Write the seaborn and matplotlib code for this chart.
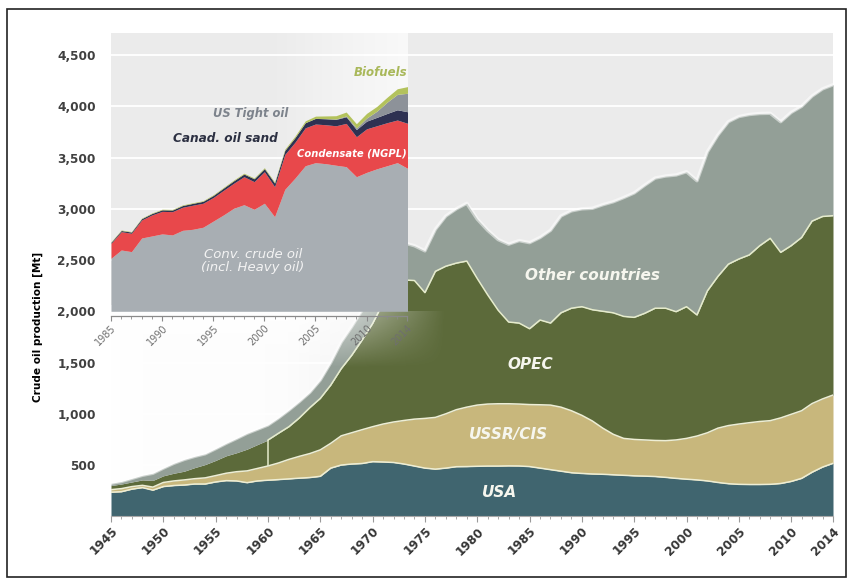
import numpy as np
import matplotlib
matplotlib.use("Agg")
import matplotlib.pyplot as plt
import seaborn as sns
from matplotlib.ticker import MultipleLocator, FuncFormatter
from matplotlib.patches import Rectangle

# ---------------- data (Mt) ----------------
years = list(range(1945, 2015))
usa = [235, 240, 265, 280, 255, 290, 300, 305, 315, 315,
       335, 348, 345, 328, 345, 352, 358, 365, 372, 378,
       390, 470, 500, 510, 515, 533, 530, 525, 510, 490,
       470, 460, 470, 484, 485, 488, 490, 490, 492, 491,
       485, 470, 455, 440, 425, 418, 413, 410, 405, 400,
       395, 392, 388, 380, 370, 362, 355, 345, 330, 318,
       312, 310, 310, 312, 320, 340, 370, 430, 480, 517]
ussr_cis = [25, 30, 25, 22, 30, 40, 45, 50, 52, 60,
            62, 72, 90, 115, 122, 139, 162, 190, 213, 234,
            258, 242, 285, 305, 330, 341, 370, 395, 425, 458,
            485, 505, 530, 556, 580, 597, 605, 608, 606, 604,
            605, 618, 630, 625, 605, 567, 517, 450, 395, 360,
            355, 353, 352, 358, 375, 398, 428, 470, 530, 567,
            588, 603, 615, 621, 640, 655, 660, 670, 665, 666]
opec = [40, 45, 45, 53, 65, 65, 75, 85, 108, 130,
        148, 170, 185, 212, 233, 253, 290, 319, 375, 448,
        502, 568, 655, 755, 875, 1006, 1180, 1340, 1371, 1352,
        1227, 1425, 1440, 1430, 1425, 1235, 1065, 912, 797, 790,
        740, 827, 800, 920, 1000, 1060, 1085, 1140, 1185, 1190,
        1191, 1235, 1290, 1292, 1251, 1285, 1181, 1385, 1480, 1575,
        1610, 1637, 1715, 1779, 1615, 1645, 1690, 1780, 1780, 1750]
other = [22, 25, 35, 45, 70, 75, 97, 115, 110, 105,
         115, 122, 140, 155, 150, 147, 150, 163, 160, 150,
         180, 220, 260, 280, 293, 320, 323, 340, 362, 340,
         408, 410, 490, 530, 564, 580, 630, 690, 760, 805,
         840, 805, 905, 945, 950, 955, 990, 1040, 1084, 1160,
         1214, 1250, 1270, 1290, 1334, 1317, 1310, 1357, 1380, 1390,
         1390, 1370, 1290, 1220, 1275, 1300, 1280, 1220, 1245, 1277]
main_labels = ["USA", "USSR/CIS", "OPEC", "Other countries"]
main_xticks = [1945, 1950, 1955, 1960, 1965, 1970, 1975, 1980,
               1985, 1990, 1995, 2000, 2005, 2010, 2014]
y_ticks = [500, 1000, 1500, 2000, 2500, 3000, 3500, 4000, 4500]
opec_start = 1960

inset_years = list(range(1985, 2015))
conv_crude = [2517, 2598, 2582, 2715, 2735, 2755, 2745, 2790, 2800, 2820,
              2880, 2940, 3005, 3040, 2995, 3054, 2923, 3190, 3300, 3420,
              3450, 3440, 3425, 3411, 3313, 3355, 3390, 3420, 3450, 3395]
condensate = [146, 179, 179, 176, 205, 220, 227, 225, 235, 234,
              230, 240, 244, 273, 270, 308, 293, 340, 350, 370,
              377, 380, 385, 422, 390, 425, 420, 420, 416, 439]
oil_sand = [10, 11, 12, 13, 14, 15, 16, 17, 18, 19,
            20, 22, 24, 26, 28, 30, 35, 40, 45, 50,
            55, 58, 62, 65, 70, 75, 82, 90, 100, 113]
tight_oil = [0, 0, 0, 0, 0, 0, 0, 0, 0, 0,
             0, 0, 0, 0, 0, 0, 0, 0, 0, 0,
             0, 2, 4, 8, 15, 30, 60, 110, 150, 180]
biofuels = [5, 5, 5, 5, 5, 6, 6, 6, 6, 6,
            7, 7, 8, 8, 8, 9, 10, 12, 15, 18,
            22, 26, 32, 38, 42, 46, 47, 48, 55, 65]
inset_xticks = [1985, 1990, 1995, 2000, 2005, 2010, 2014]
inset_base = 2000

# ---------------- style ----------------
sns.set_theme(style="white")
plt.rcParams['font.family'] = ['DejaVu Sans']

c_usa, c_ussr, c_opec, c_other = '#40656f', '#c8b77c', '#5c6a3a', '#939f97'
c_conv, c_cond, c_sand, c_tight, c_bio = '#a8aeb3', '#e8484b', '#2e3152', '#8d9299', '#b3c25c'
line_c = '#eeeed5'

W, H = 853, 579
fig = plt.figure(figsize=(W / 100, H / 100), dpi=100)
fig.patch.set_facecolor('white')

y_top = 4715
x0_main, x1_main = 1945, 2014
ax_w_px = 722
ax = fig.add_axes([111 / W, 1 - 516.3 / H, ax_w_px / W, 483.3 / H])
ax.set_facecolor('#ebebeb')
ax.set_axisbelow(True)
ax.grid(axis='y', color='white', lw=1.3)
ax.grid(axis='x', visible=False)

# white fog in the lower left (behind the data)
gx = np.linspace(1945, 1979, 400)
alpha = np.interp(gx, [1945, 1961, 1979], [0.97, 0.9, 0.0])
fog = np.ones((1, gx.size, 4))
fog[..., 3] = alpha
ax.imshow(fog, extent=[1945, 1979, 0, 2050], aspect='auto', zorder=0.8,
          interpolation='bilinear')

yrs = np.array(years)
c1 = np.array(usa)
c2 = c1 + np.array(ussr_cis)
c3 = c2 + np.array(opec)
c4 = c3 + np.array(other)
ax.fill_between(yrs, 0, c1, color=c_usa, lw=0, zorder=1)
ax.fill_between(yrs, c1, c2, color=c_ussr, lw=0, zorder=1)
ax.fill_between(yrs, c2, c3, color=c_opec, lw=0, zorder=1)
ax.fill_between(yrs, c3, c4, color=c_other, lw=0, zorder=1)

sns.lineplot(x=yrs, y=c1, color=line_c, lw=1.1, ax=ax, zorder=2)
sns.lineplot(x=yrs, y=c2, color=line_c, lw=1.1, ax=ax, zorder=2)
m = yrs >= opec_start
sns.lineplot(x=yrs[m], y=c3[m], color='#e6eccc', lw=1.1, ax=ax, zorder=2)
i0 = years.index(opec_start)
ax.vlines(opec_start, c2[i0], c3[i0], color='#e6eccc', lw=1.1, zorder=2)
sns.lineplot(x=yrs, y=c4, color='white', lw=2.5, alpha=0.5, ax=ax, zorder=2)

# soft white haze just below the inset, over the data
hx = np.linspace(1945, 1977, 200)
hy = np.linspace(1450, 2000, 60)
ax_h = np.interp(hx, [1945, 1963, 1977], [0.85, 0.8, 0.0])
ay_h = np.interp(hy, [1450, 2000], [0.0, 1.0])
haze = np.ones((hy.size, hx.size, 4))
haze[..., 3] = np.outer(ay_h[::-1], ax_h)
ax.imshow(haze, extent=[1945, 1977, 1450, 2000], aspect='auto', zorder=3,
          interpolation='bilinear')

# haze behind the inset (fades main data that rises into the inset box)
inset_w_px = 296.5
inset_right = x0_main + inset_w_px / ax_w_px * (x1_main - x0_main)
fx = np.linspace(1960, inset_right, 200)
fa = np.interp(fx, [1960, 1966, inset_right], [0.0, 0.35, 0.7])
fog3 = np.ones((1, fx.size, 4))
fog3[..., 3] = fa
ax.imshow(fog3, extent=[1960, inset_right, 2000, y_top], aspect='auto',
          zorder=3, interpolation='bilinear')

ax.set_xlim(x0_main, x1_main)
ax.set_ylim(0, y_top)
ax.set_xlabel('')
ax.set_ylabel('')
ax.set_xticks(main_xticks)
ax.xaxis.set_minor_locator(MultipleLocator(1))
ax.tick_params(axis='x', which='major', direction='out', length=4, width=0.8,
               color='#9a9a9a', bottom=True, pad=2)
ax.tick_params(axis='x', which='minor', direction='out', length=2.5, width=0.6,
               color='#9a9a9a', bottom=True)
for lab in ax.set_xticklabels([str(t) for t in main_xticks]):
    lab.set_rotation(45)
    lab.set_ha('right')
    lab.set_rotation_mode('anchor')
    lab.set_fontsize(8.7)
    lab.set_fontweight('bold')
    lab.set_color('#363636')
ax.set_yticks(y_ticks)
ax.yaxis.set_major_formatter(FuncFormatter(lambda v, p: f"{int(v):,}"))
ax.tick_params(axis='y', length=0, pad=11, labelsize=8.7, labelcolor='#404040')
for lab in ax.get_yticklabels():
    lab.set_fontweight('bold')
for s in ['left', 'top', 'right']:
    ax.spines[s].set_visible(False)
ax.spines['bottom'].set_color('#a8a8a8')
ax.spines['bottom'].set_linewidth(0.8)

lab_kw = dict(color='#f6f6ee', fontsize=11, fontweight='bold', style='italic',
              ha='center', va='center', zorder=5)
ax.text(1991.0, 2345, main_labels[3], **lab_kw)
ax.text(1985.1, 1477, main_labels[2], **lab_kw)
ax.text(1983.0, 794, main_labels[1], **lab_kw)
ax.text(1982.1, 228, main_labels[0], **lab_kw)

fig.text(38 / W, 1 - 327 / H, 'Crude oil production [Mt]', rotation=90,
         ha='center', va='center', fontsize=7.6, fontweight='bold', color='black')

# ---------------- inset ----------------
y_in_bottom = (516.3 - 316) / (483.3 / y_top)
axi = fig.add_axes([111 / W, 1 - 316 / H, inset_w_px / W, 283 / H])
axi.set_facecolor('none')
axi.set_xlim(1985, 2014)
axi.set_ylim(y_in_bottom, y_top)

iy = np.array(inset_years)
k1 = np.array(conv_crude)
k2 = k1 + np.array(condensate)
k3 = k2 + np.array(oil_sand)
k4 = k3 + np.array(tight_oil)
k5 = k4 + np.array(biofuels)
axi.fill_between(iy, inset_base, k1, color=c_conv, lw=0, zorder=2)
axi.fill_between(iy, k1, k2, color=c_cond, lw=0, zorder=2)
axi.fill_between(iy, k2, k3, color=c_sand, lw=0, zorder=2)
axi.fill_between(iy, k3, k4, color=c_tight, lw=0, zorder=2)
axi.fill_between(iy, k4, k5, color=c_bio, lw=0, zorder=2)

axi.set_xticks(inset_xticks)
axi.xaxis.set_minor_locator(MultipleLocator(1))
axi.set_yticks([])
axi.tick_params(axis='x', which='major', direction='out', length=3.5, width=0.8,
                color='#8a8a8a', bottom=True, pad=1.5)
axi.tick_params(axis='x', which='minor', direction='out', length=2.5, width=0.6,
                color='#8a8a8a', bottom=True)
for lab in axi.set_xticklabels([str(t) for t in inset_xticks]):
    lab.set_rotation(45)
    lab.set_ha('right')
    lab.set_rotation_mode('anchor')
    lab.set_fontsize(7)
    lab.set_color('#6f6f6f')
for s in ['left', 'top', 'right']:
    axi.spines[s].set_visible(False)
axi.spines['bottom'].set_color('#8a8a8a')
axi.spines['bottom'].set_linewidth(0.9)

ikw = dict(fontweight='bold', style='italic', ha='center', va='center', zorder=5)
axi.text(2011.4, 4330, 'Biofuels', color='#a9b85a', fontsize=8.5, **ikw)
axi.text(1998.7, 3926, 'US Tight oil', color='#7d838c', fontsize=8.3, **ikw)
axi.text(1996.2, 3682, 'Canad. oil sand', color='#2c3042', fontsize=8.7, **ikw)
axi.text(2008.6, 3536, 'Condensate (NGPL)', color='white', fontsize=7.2, **ikw)
axi.text(1998.9, 2487, 'Conv. crude oil\n(incl. Heavy oil)', color='#f3f3f3',
         fontsize=9.5, style='italic', ha='center', va='center', linespacing=1.0,
         zorder=5)

# outer frame
fig.patches.append(Rectangle((7 / W, 1 - 577 / H), (846 - 7) / W, (577 - 9) / H,
                             transform=fig.transFigure, fill=False,
                             edgecolor='#222222', lw=1.2))

fig.savefig('out.png', dpi=100)
